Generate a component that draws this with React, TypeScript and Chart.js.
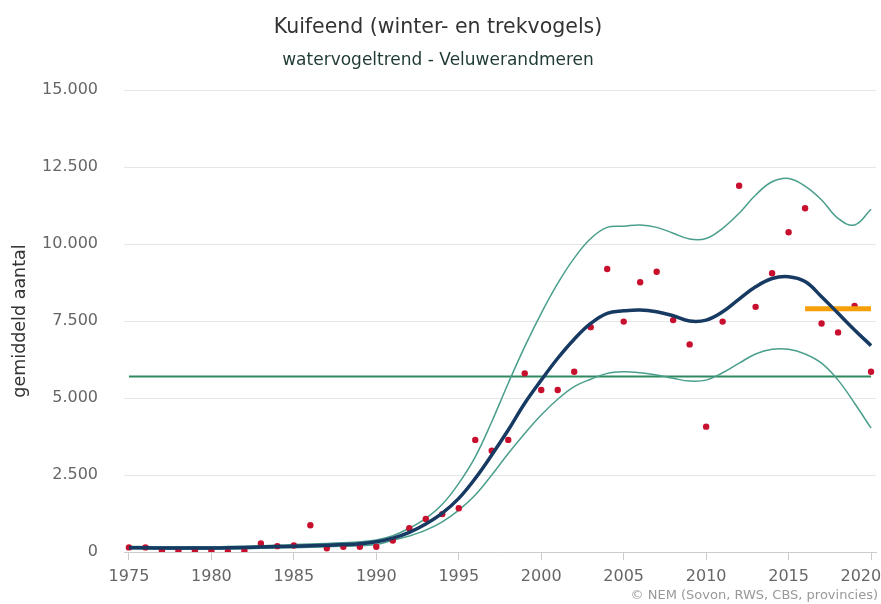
import React, { useEffect, useRef } from "react";
import { Chart, registerables } from "chart.js";

Chart.register(...registerables);

const TITLE = "Kuifeend (winter- en trekvogels)";
const SUBTITLE = "watervogeltrend - Veluwerandmeren";
const Y_TITLE = "gemiddeld aantal";
const CREDIT = "© NEM (Sovon, RWS, CBS, provincies)";

const YEARS = [
  1975, 1976, 1977, 1978, 1979, 1980, 1981, 1982, 1983, 1984, 1985, 1986,
  1987, 1988, 1989, 1990, 1991, 1992, 1993, 1994, 1995, 1996, 1997, 1998,
  1999, 2000, 2001, 2002, 2003, 2004, 2005, 2006, 2007, 2008, 2009, 2010,
  2011, 2012, 2013, 2014, 2015, 2016, 2017, 2018, 2019, 2020,
];

const COUNTS = [
  150, 150, 40, 40, 40, 40, 10, 40, 280, 190, 210, 870,
  120, 170, 170, 170, 370, 770, 1070, 1230, 1420, 3640, 3290, 3640,
  5800, 5260, 5260, 5850, 7300, 9190, 7480, 8760, 9100, 7530, 6740, 4070,
  7480, 11890, 7960, 9050, 10380, 11160, 7420, 7130, 7990, 5850,
];

const TREND = [
  140, 135, 130, 128, 128, 130, 135, 145, 160, 175, 190, 205,
  220, 240, 270, 330, 450, 640, 910, 1260, 1740, 2390, 3150, 3960,
  4830, 5580, 6290, 6910, 7420, 7750, 7830, 7860, 7800, 7670, 7500, 7530,
  7800, 8210, 8610, 8880, 8940, 8780, 8290, 7750, 7210, 6700,
];

const UPPER = [
  180, 175, 170, 168, 168, 170, 178, 190, 205, 222, 240, 258,
  278, 300, 330, 390, 530, 770, 1090, 1550, 2230, 3090, 4230, 5480,
  6670, 7750, 8720, 9540, 10180, 10540, 10580, 10620, 10540, 10350, 10160, 10180,
  10510, 11000, 11590, 12020, 12130, 11880, 11430, 10830, 10620, 11130,
];

const LOWER = [
  105, 100, 95, 92, 92, 95, 100, 108, 118, 130, 142, 155,
  168, 185, 205, 240, 380, 520, 710, 980, 1360, 1850, 2500, 3200,
  3850, 4450, 4960, 5370, 5610, 5800, 5850, 5820, 5750, 5640, 5550, 5580,
  5820, 6130, 6430, 6580, 6580, 6430, 6130, 5580, 4830, 4020,
];

const REF_YEARS = [1975, 2020];
const REF_LEVEL = 5700;
const RECENT_YEARS = [2016, 2020];
const RECENT_LEVEL = 7900;

const X_TICKS = [1975, 1980, 1985, 1990, 1995, 2000, 2005, 2010, 2015, 2020];
const Y_TICKS = [0, 2500, 5000, 7500, 10000, 12500, 15000];

const FONT = "'DejaVu Sans', sans-serif";

const fmt = (v: number) =>
  String(Math.round(v)).replace(/\B(?=(\d{3})+(?!\d))/g, ".");

const pts = (xs: number[], ys: (number | null)[]) =>
  xs.map((x, i) => ({ x, y: ys[i] }));

const creditPlugin = {
  id: "credit",
  afterDraw(chart: any) {
    const ctx = chart.ctx;
    ctx.save();
    ctx.font = `13px ${FONT}`;
    ctx.fillStyle = "#999999";
    ctx.textAlign = "right";
    ctx.textBaseline = "middle";
    ctx.fillText(CREDIT, chart.width - 3, 596);
    ctx.restore();
  },
};

export default function App() {
  const ref = useRef<HTMLCanvasElement | null>(null);

  useEffect(() => {
    document.body.style.margin = "0";
    const canvas = ref.current;
    if (!canvas) return;
    const lastTick = X_TICKS[X_TICKS.length - 1];
    const chart = new Chart(canvas, {
      type: "line",
      data: {
        datasets: [
          {
            label: "trend",
            data: pts(YEARS, TREND),
            borderColor: "#173a63",
            borderWidth: 3.5,
            pointRadius: 0,
            tension: 0.4,
            fill: false,
            order: 0,
          },
          {
            label: "recent",
            data: pts(RECENT_YEARS, [RECENT_LEVEL, RECENT_LEVEL]),
            borderColor: "#f5a00a",
            borderWidth: 5,
            pointRadius: 0,
            fill: false,
            order: 1,
          },
          {
            label: "telling",
            data: pts(YEARS, COUNTS),
            showLine: false,
            pointRadius: 3.2,
            pointBackgroundColor: "#c8102e",
            pointBorderWidth: 0,
            borderColor: "#c8102e",
            order: 2,
          },
          {
            label: "boven",
            data: pts(YEARS, UPPER),
            borderColor: "#4a9e8c",
            borderWidth: 1.5,
            pointRadius: 0,
            tension: 0.4,
            fill: false,
            order: 3,
          },
          {
            label: "onder",
            data: pts(YEARS, LOWER),
            borderColor: "#4a9e8c",
            borderWidth: 1.5,
            pointRadius: 0,
            tension: 0.4,
            fill: false,
            order: 3,
          },
          {
            label: "referentie",
            data: pts(REF_YEARS, [REF_LEVEL, REF_LEVEL]),
            borderColor: "#2e8a5e",
            borderWidth: 2,
            pointRadius: 0,
            fill: false,
            order: 4,
          },
        ],
      },
      options: {
        animation: false,
        responsive: true,
        maintainAspectRatio: false,
        layout: { padding: { left: 0, right: 5, top: 0, bottom: 0 } },
        plugins: {
          legend: { display: false },
          tooltip: { enabled: false },
          title: {
            display: true,
            text: TITLE,
            color: "#333333",
            font: { family: FONT, size: 20.5, weight: "normal" },
            padding: { top: 15, bottom: 11 },
          },
          subtitle: {
            display: true,
            text: SUBTITLE,
            color: "#1f3a34",
            font: { family: FONT, size: 17, weight: "normal" },
            padding: { top: 0, bottom: 19 },
          },
        },
        scales: {
          x: {
            type: "linear",
            min: 1974.7,
            max: 2020.3,
            afterBuildTicks(scale: any) {
              scale.ticks = X_TICKS.map((v) => ({ value: v }));
            },
            afterFit(scale: any) {
              scale.height = 52;
              scale.paddingLeft = 0;
              scale.paddingRight = 0;
            },
            ticks: {
              autoSkip: false,
              maxRotation: 0,
              color: "#666666",
              font: { family: FONT, size: 16 },
              padding: 7,
              callback: (v: any) =>
                Number(v) === lastTick ? String(v) + "\u2007\u2007" : String(v),
            },
            grid: {
              display: true,
              drawOnChartArea: false,
              drawTicks: true,
              tickLength: 8,
              color: "#cccccc",
            },
            border: { display: true, color: "#cccccc" },
          },
          y: {
            type: "linear",
            min: 0,
            max: 15000,
            afterBuildTicks(scale: any) {
              scale.ticks = Y_TICKS.map((v) => ({ value: v }));
            },
            afterFit(scale: any) {
              scale.width = 124;
            },
            ticks: {
              color: "#666666",
              font: { family: FONT, size: 16 },
              padding: 26,
              callback: (v: any) => fmt(Number(v)),
            },
            grid: {
              color: "#e6e6e6",
              lineWidth: 1,
              drawTicks: false,
            },
            border: { display: false },
            title: {
              display: true,
              text: Y_TITLE,
              color: "#333333",
              font: { family: FONT, size: 17.5 },
              padding: { top: 10, bottom: 0 },
            },
          },
        },
      },
      plugins: [creditPlugin],
    });
    return () => chart.destroy();
  }, []);

  return (
    <div style={{ position: "absolute", left: 0, top: 0, width: 881, height: 604 }}>
      <canvas ref={ref} />
    </div>
  );
}
